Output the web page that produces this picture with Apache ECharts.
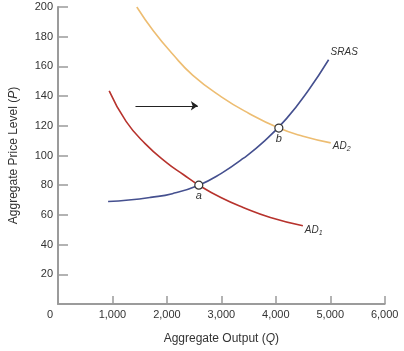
<!DOCTYPE html>
<html>
<head>
<meta charset="utf-8">
<script src="https://cdn.jsdelivr.net/npm/echarts@6/dist/echarts.min.js"></script>
<style>
  html, body { margin: 0; padding: 0; background: #fff; }
  #chart { width: 404px; height: 351px; }
</style>
</head>
<body>
<div id="chart"></div>
<script>
// curves, [output, price level]
const sras = [[920, 69], [1300, 70], [1700, 71.8], [2100, 74.3], [2586, 80], [3000, 88],
  [3400, 98], [3800, 110], [4200, 125], [4600, 144], [4970, 164.5]];
const ad1 = [[940, 143.5], [1250, 123], [1600, 108], [2000, 95], [2300, 87.2], [2586, 80],
  [3000, 71.5], [3400, 65], [3900, 58.3], [4497, 52.7]];
const ad2 = [[1447, 200], [1750, 184], [2100, 168.5], [2477, 154], [3000, 139.5], [3500, 128.5],
  [4056, 118.5], [4500, 113], [5009, 108.5]];
const equilibria = [[2586, 80, 'a'], [4056, 118.5, 'b']];
const shiftArrow = [[1423, 133.5], [2568, 133.5]];

const yTicks = [20, 40, 60, 80, 100, 120, 140, 160, 180, 200];

const axisGray = '#9b9b9b';
const font = 'Liberation Sans, Arial, sans-serif';

function curve(name, data, color, label, offset) {
  return {
    name: name,
    type: 'line',
    data: data,
    smooth: 0.5,
    showSymbol: false,
    lineStyle: { color: color, width: 1.6 },
    endLabel: {
      show: true,
      formatter: label,
      distance: 2,
      offset: offset,
      rich: {
        m: { fontFamily: font, fontStyle: 'italic', fontSize: 10, color: '#333' },
        s: { fontFamily: font, fontStyle: 'italic', fontSize: 7, color: '#333', padding: [6, 0, 0, 0] }
      }
    }
  };
}

const chart = echarts.init(document.getElementById('chart'));
chart.setOption({
  animation: false,
  grid: { left: 53, top: 7, right: 19.3, bottom: 47 },
  xAxis: {
    type: 'value',
    min: 0,
    max: 6000,
    interval: 1000,
    splitLine: { show: false },
    axisLine: { lineStyle: { color: axisGray, width: 2 } },
    axisTick: { show: true, inside: true, length: 8, lineStyle: { color: axisGray, width: 1.5 } },
    axisLabel: {
      margin: 5,
      fontFamily: font,
      fontSize: 11,
      color: '#333',
      formatter: v => v === 0 ? '{z|0}' : v.toLocaleString('en-US'),
      rich: { z: { fontFamily: font, fontSize: 11, color: '#333', padding: [0, 16, 0, 0] } }
    },
    name: '{n|Aggregate Output (}{i|Q}{n|)}',
    nameLocation: 'middle',
    nameGap: 29,
    nameTextStyle: {
      rich: {
        n: { fontFamily: font, fontSize: 12, color: '#333' },
        i: { fontFamily: font, fontSize: 12, color: '#333', fontStyle: 'italic' }
      }
    }
  },
  yAxis: {
    type: 'value',
    min: 0,
    max: 200,
    interval: 20,
    splitLine: { show: false },
    axisLine: { show: true, lineStyle: { color: axisGray, width: 2 } },
    axisTick: { show: true, inside: true, length: 10, lineStyle: { color: axisGray, width: 1.5 } },
    axisLabel: {
      margin: 5,
      fontFamily: font,
      fontSize: 11,
      color: '#333',
      showMinLabel: false,
      formatter: v => yTicks.includes(v) ? String(v) : ''
    },
    name: '{n|Aggregate Price Level (}{i|P}{n|)}',
    nameLocation: 'middle',
    nameGap: 38,
    nameTextStyle: {
      rich: {
        n: { fontFamily: font, fontSize: 12, color: '#333' },
        i: { fontFamily: font, fontSize: 12, color: '#333', fontStyle: 'italic' }
      }
    }
  },
  series: [
    curve('AD1', ad1, '#b7332d', '{m|AD}{s|1}', [0, 4]),
    curve('AD2', ad2, '#edbd72', '{m|AD}{s|2}', [0, 3]),
    curve('SRAS', sras, '#45508f', '{m|SRAS}', [0, -7]),
    {
      type: 'lines',
      coordinateSystem: 'cartesian2d',
      data: [{ coords: shiftArrow }],
      symbol: ['none', 'arrow'],
      symbolSize: 7,
      lineStyle: { color: '#222', width: 1.2, opacity: 1 }
    },
    {
      type: 'scatter',
      data: equilibria,
      symbol: 'circle',
      symbolSize: 8,
      z: 5,
      itemStyle: { color: '#fff', borderColor: '#333', borderWidth: 1.2, opacity: 1 },
      label: {
        show: true,
        position: 'bottom',
        distance: 1,
        formatter: p => p.data[2],
        fontFamily: font,
        fontStyle: 'italic',
        fontSize: 11,
        color: '#333'
      }
    }
  ]
});
</script>
</body>
</html>
